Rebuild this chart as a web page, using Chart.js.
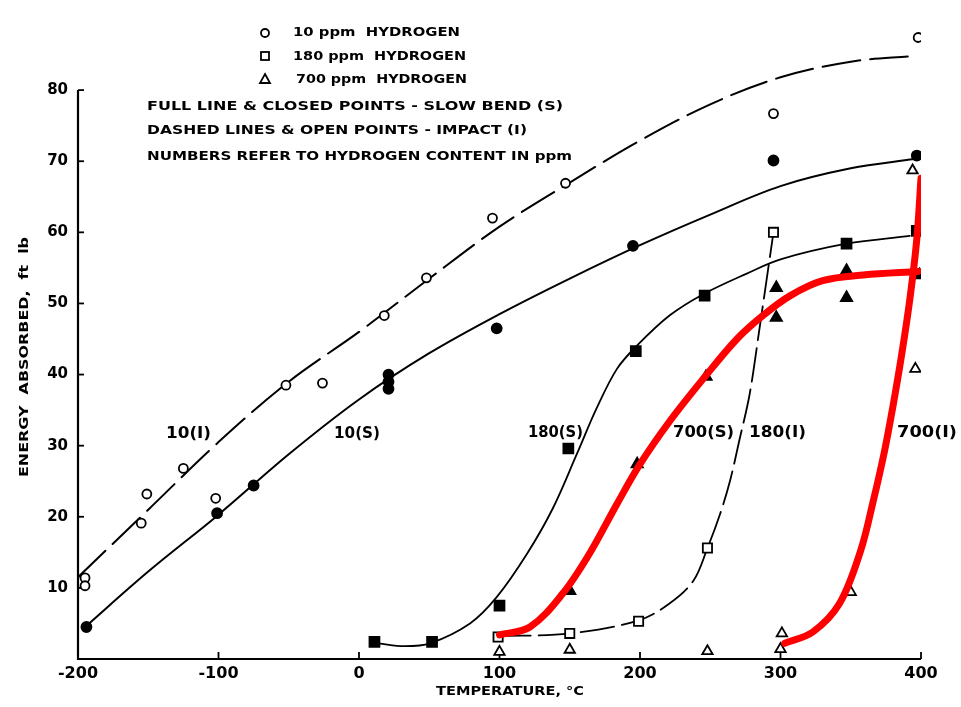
<!DOCTYPE html>
<html>
<head>
<meta charset="utf-8">
<script src="https://cdn.jsdelivr.net/npm/chart.js@4.4.1/dist/chart.umd.min.js"></script>
<style>
  html, body { margin: 0; padding: 0; background: #fff; }
  #wrap { width: 961px; height: 707px; }
</style>
</head>
<body>
<div id="wrap"><canvas id="grafico" width="961" height="707"></canvas></div>
<script>
// Energia absorbida vs temperatura, 10 / 180 / 700 ppm de hidrogeno

const xTicks = [-200, -100, 0, 100, 200, 300, 400];
const yTicks = [10, 20, 30, 40, 50, 60, 70, 80];

// puntos medidos (x = temperatura, y = energia)
const h10Impact = [[-195, 11.4], [-195, 10.3], [-155, 19.1], [-151, 23.2], [-125, 26.8], [-102, 22.6],
  [-52, 38.5], [-26, 38.8], [18, 48.3], [48, 53.6], [95, 62.0], [147, 66.9], [295, 76.7], [398, 87.4]];
const h10Slow = [[-194, 4.5], [-101, 20.5], [-75, 24.4], [21, 40], [21, 39], [21, 38],
  [98, 46.5], [195, 58.1], [295, 70.1], [397, 70.8]];
const h180Slow = [[11, 2.4], [52, 2.4], [100, 7.5], [149, 29.6], [197, 43.3], [246, 51.1], [347, 58.4], [397, 60.2]];
const h180Impact = [[99, 3.1], [150, 3.6], [199, 5.3], [248, 15.6], [295, 60]];
const h700Slow = [[150, 9.6], [198, 27.4], [247, 39.7], [297, 52.2], [297, 48], [347, 54.6], [347, 50.8], [399, 54]];
const h700Impact = [[100, 1.0], [150, 1.3], [248, 1.1], [300, 1.4], [301, 3.6], [350, 9.4], [396, 40.8], [394, 68.7]];

// curvas trazadas a mano
const curve10I = [[-200, 11.5], [-150, 21], [-100, 30.5], [-50, 39], [0, 46], [50, 53.5],
  [100, 60.8], [150, 67], [200, 72.9], [250, 78], [300, 81.8], [350, 84], [395, 84.8]];
const curve10S = [[-195, 4.5], [-150, 12.3], [-100, 20.3], [-50, 28.8], [0, 36.5], [50, 43], [100, 48.5],
  [150, 53.5], [200, 58.2], [250, 62.5], [300, 66.5], [350, 69], [395, 70.3]];
const curve180S = [[14, 2.2], [32, 1.8], [50.5, 2.2], [79, 5.0], [98, 8.7], [119.6, 14.8], [138, 21.2],
  [155, 28.8], [169, 35.2], [183.6, 40.8], [198, 44.1], [221, 48.3], [245, 51.3], [276, 54.2],
  [300, 56.2], [347, 58.4], [392, 59.5]];
const curve180I = [[98, 3.2], [150, 3.6], [198.6, 5.4], [221, 7.8], [238, 11], [248, 15.6], [257, 20.4],
  [264, 25], [271, 31], [278, 37.2], [285, 46.4], [295, 60]];

// trazos rojos encima
const red1 = [[100, 3.4], [121.7, 4.5], [145, 9.2], [164, 14.8], [183.6, 21.8], [200, 27.4], [221, 33.4],
  [245, 39.4], [269, 45], [287.5, 48.3], [307, 51.1], [330, 53.2], [359, 54], [398, 54.5]];
const red2 = [[303, 2.2], [323, 3.8], [342, 7.8], [357, 15.2], [366, 22.2], [374, 29.2], [380, 35.5],
  [386, 42.5], [392, 50.5], [397, 59], [400, 67.6]];

const pts = arr => arr.map(p => ({x: p[0], y: p[1]}));
const FONT = '"DejaVu Sans", sans-serif';

function curva(datos, dash, color, ancho, orden) {
    return {
        data: pts(datos), showLine: true, pointRadius: 0, borderColor: color,
        borderWidth: ancho, borderDash: dash, tension: 0.35,
        order: orden, borderCapStyle: 'round'
    };
}

function puntos(datos, forma, lleno, radio) {
    return {
        data: pts(datos), showLine: false, pointStyle: forma, pointRadius: radio,
        pointBorderColor: '#000', pointBackgroundColor: lleno ? '#000' : '#fff',
        pointBorderWidth: 1.8, order: 2
    };
}

// texto estirado al ancho deseado
function texto(ctx, str, x, y, ancho, size) {
    ctx.save();
    ctx.font = 'bold ' + size + 'px ' + FONT;
    ctx.textBaseline = 'middle';
    ctx.textAlign = 'left';
    let w = ctx.measureText(str).width;
    ctx.translate(x, y);
    ctx.scale(ancho / w, 1);
    ctx.fillText(str, 0, 0);
    ctx.restore();
}

const decoracion = {
    id: 'decoracion',
    beforeDatasetsDraw(chart) {
        const ctx = chart.ctx;
        const sx = chart.scales.x, sy = chart.scales.y;
        ctx.save();
        ctx.strokeStyle = '#000';
        ctx.lineWidth = 2.2;
        ctx.beginPath();
        ctx.moveTo(sx.getPixelForValue(-200), sy.getPixelForValue(80));
        ctx.lineTo(sx.getPixelForValue(-200), sy.getPixelForValue(0));
        ctx.lineTo(sx.getPixelForValue(400), sy.getPixelForValue(0));
        ctx.stroke();
        ctx.lineWidth = 1.8;
        yTicks.forEach(v => {
            let py = sy.getPixelForValue(v);
            ctx.beginPath();
            ctx.moveTo(sx.left, py);
            ctx.lineTo(sx.left + 6, py);
            ctx.stroke();
        });
        xTicks.forEach(v => {
            let px = sx.getPixelForValue(v);
            ctx.beginPath();
            ctx.moveTo(px, sy.bottom);
            ctx.lineTo(px, sy.bottom - 7);
            ctx.stroke();
        });
        ctx.restore();
    },
    afterDatasetsDraw(chart) {
        const ctx = chart.ctx;
        ctx.save();
        ctx.fillStyle = '#000';
        ctx.strokeStyle = '#000';
        ctx.lineWidth = 1.8;
        // simbolos de la leyenda
        ctx.beginPath();
        ctx.arc(265, 33, 4, 0, Math.PI * 2);
        ctx.stroke();
        ctx.strokeRect(261, 52, 8, 8);
        ctx.beginPath();
        ctx.moveTo(265, 74); ctx.lineTo(270, 83); ctx.lineTo(260, 83); ctx.closePath();
        ctx.stroke();

        texto(ctx, '10 ppm  HYDROGEN', 293, 33, 167, 13);
        texto(ctx, '180 ppm  HYDROGEN', 293, 57, 173, 13);
        texto(ctx, '700 ppm  HYDROGEN', 296, 80, 171, 13);
        texto(ctx, 'FULL LINE & CLOSED POINTS - SLOW BEND (S)', 147, 107, 416, 13);
        texto(ctx, 'DASHED LINES & OPEN POINTS - IMPACT (I)', 147, 131, 380, 13);
        texto(ctx, 'NUMBERS REFER TO HYDROGEN CONTENT IN ppm', 147, 157, 425, 13);

        // etiquetas de las curvas
        texto(ctx, '10(I)', 166, 434, 45, 15);
        texto(ctx, '10(S)', 334, 434, 46, 15);
        texto(ctx, '180(S)', 528, 433, 55, 15);
        texto(ctx, '700(S)', 673, 433, 61, 15);
        texto(ctx, '180(I)', 749, 433, 57, 15);
        texto(ctx, '700(I)', 897, 433, 60, 15);

        // titulos de ejes
        texto(ctx, 'TEMPERATURE, °C', 436, 692, 148, 13);
        ctx.save();
        ctx.translate(25, 357);
        ctx.rotate(-Math.PI / 2);
        texto(ctx, 'ENERGY  ABSORBED,  ft  lb', -120, 0, 240, 12);
        ctx.restore();
        ctx.restore();
    }
};

const datasets = [
    curva(red1, [], '#ff0000', 7, 0),
    curva(red2, [], '#ff0000', 7, 0),
    curva(curve10I, [38, 10], '#000', 2, 3),
    curva(curve10S, [], '#000', 2, 3),
    curva(curve180S, [], '#000', 1.8, 3),
    curva(curve180I, [34, 8], '#000', 1.8, 3),
    puntos(h10Impact, 'circle', false, 4.5),
    puntos(h10Slow, 'circle', true, 5),
    puntos(h180Impact, 'rect', false, 6.5),
    puntos(h180Slow, 'rect', true, 7),
    puntos(h700Impact, 'triangle', false, 6),
    puntos(h700Slow, 'triangle', true, 6.5)
];

new Chart(document.getElementById('grafico'), {
    type: 'scatter',
    data: { datasets: datasets },
    options: {
        responsive: false,
        animation: false,
        layout: { padding: { top: 14, right: 40, left: 0, bottom: 0 } },
        plugins: { legend: { display: false }, tooltip: { enabled: false } },
        scales: {
            x: {
                type: 'linear', min: -200, max: 400,
                afterBuildTicks: s => { s.ticks = xTicks.map(v => ({value: v})); },
                afterFit: s => { s.height = 48; },
                grid: { display: false, drawTicks: false },
                border: { display: false },
                ticks: { color: '#000', padding: 5, font: { family: FONT, size: 16, weight: 'bold' },
                    callback: v => String(v) }
            },
            y: {
                type: 'linear', min: 0, max: 90,
                afterBuildTicks: s => { s.ticks = yTicks.map(v => ({value: v})); },
                afterFit: s => { s.width = 78; },
                grid: { display: false, drawTicks: false },
                border: { display: false },
                ticks: { color: '#000', padding: 10, font: { family: FONT, size: 15, weight: 'bold' },
                    callback: v => String(v) }
            }
        }
    },
    plugins: [decoracion]
});
</script>
</body>
</html>
